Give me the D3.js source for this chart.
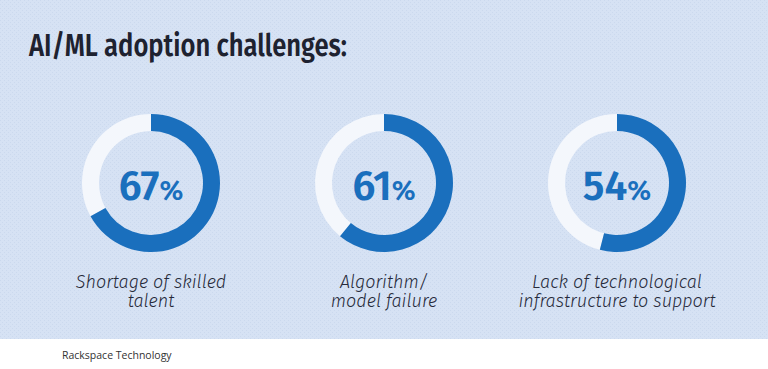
<!DOCTYPE html>
<html lang="en">
<head>
<meta charset="UTF-8">
<title>AI/ML adoption challenges</title>
<style>
    body { margin: 0; background: #fff; }
    svg { display: block; }
</style>
</head>
<body>
<script src="https://cdn.jsdelivr.net/npm/d3@7"></script>
<script>

    var labels = [
        ["Shortage of skilled", "talent"],
        ["Algorithm/", "model failure"],
        ["Lack of technological", "infrastructure to support"]
    ];
    var values = [67, 61, 54];
    var title = "AI/ML adoption challenges:";
    var source = "Rackspace Technology";

    var width = 768, height = 369, panelHeight = 339;

    var svg = d3.select("body").append("svg")
        .attr("width", width)
        .attr("height", height);

    // dotted background
    var pat = svg.append("defs").append("pattern")
        .attr("id", "dots")
        .attr("width", 4).attr("height", 4)
        .attr("patternUnits", "userSpaceOnUse");
    pat.append("rect").attr("width", 4).attr("height", 4).attr("fill", "#d6e2f4");
    pat.append("rect").attr("x", 0).attr("y", 0).attr("width", 1).attr("height", 1).attr("fill", "#cbd9ee");
    pat.append("rect").attr("x", 2).attr("y", 2).attr("width", 1).attr("height", 1).attr("fill", "#cbd9ee");

    svg.append("rect")
        .attr("width", width)
        .attr("height", panelHeight)
        .attr("fill", "url(#dots)");

    svg.append("text")
        .attr("x", 29)
        .attr("y", 56)
        .attr("textLength", 318)
        .attr("lengthAdjust", "spacingAndGlyphs")
        .style("font-family", "'Fira Sans', 'Open Sans', sans-serif")
        .style("font-weight", 600)
        .style("font-size", "30px")
        .style("fill", "#1e2230")
        .text(title);

    var x = d3.scalePoint()
        .domain(d3.range(values.length))
        .range([151, 617]);

    var pct = d3.scaleLinear().domain([0, 100]).range([0, 2 * Math.PI]);

    var arc = d3.arc()
        .innerRadius(52)
        .outerRadius(69);

    var cy = 183;

    var g = svg.selectAll(".donut")
        .data(values)
      .enter().append("g")
        .attr("class", "donut")
        .attr("transform", function(d, i) { return "translate(" + x(i) + "," + cy + ")"; });

    g.append("path")
        .attr("d", function(d) { return arc({ startAngle: pct(d), endAngle: 2 * Math.PI }); })
        .attr("fill", "#f4f7fc");

    g.append("path")
        .attr("d", function(d) { return arc({ startAngle: 0, endAngle: pct(d) }); })
        .attr("fill", "#1a6fbd");

    var num = g.append("text")
        .attr("text-anchor", "middle")
        .attr("y", 17)
        .style("font-family", "'Fira Sans', 'Open Sans', sans-serif")
        .style("font-weight", 600)
        .style("fill", "#1a6fbd");
    num.append("tspan")
        .style("font-size", "41px")
        .text(function(d) { return d; });
    num.append("tspan")
        .style("font-size", "28px")
        .text("%");

    g.each(function(d, i) {
        var t = d3.select(this).append("text")
            .attr("text-anchor", "middle")
            .style("font-family", "'Fira Sans', 'Open Sans', sans-serif")
            .style("font-style", "italic")
            .style("font-weight", 300)
            .style("font-size", "18px")
            .style("fill", "#262a3a");
        labels[i].forEach(function(line, k) {
            t.append("tspan")
                .attr("x", 0)
                .attr("y", 105 + k * 18.5)
                .text(line);
        });
    });

    svg.append("text")
        .attr("x", 62)
        .attr("y", 359)
        .style("font-family", "'Open Sans', sans-serif")
        .style("font-size", "10.5px")
        .style("fill", "#333")
        .text(source);

</script>
</body>
</html>
